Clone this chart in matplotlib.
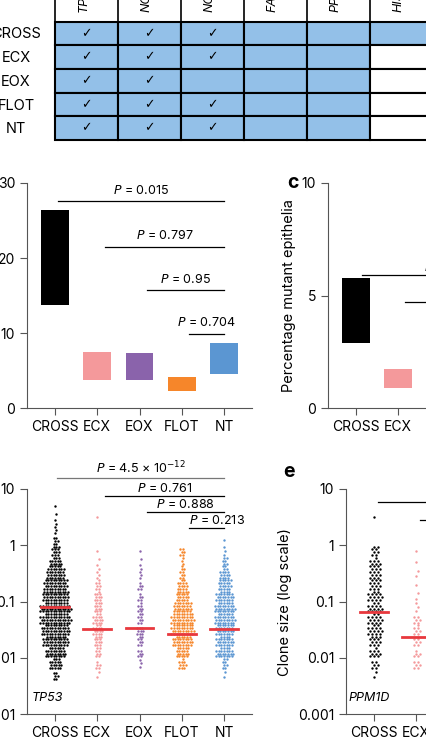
import numpy as np
import matplotlib
matplotlib.use("Agg")
import matplotlib.pyplot as plt
from matplotlib.patches import Rectangle

plt.rcParams["font.family"] = ["Inter", "DejaVu Sans"]
plt.rcParams["font.size"] = 10

# ── Data ─────────────────────────────────────────────────────────────────────
groups = ["CROSS", "ECX", "EOX", "FLOT", "NT"]
colors = ["#000000", "#f4999b", "#8a63ab", "#f6862a", "#5b96d2"]

genes = ["TP53", "NOTCH1", "NOTCH2", "FAT1", "PPM1D", "HIST1H"]
checks = [[1, 1, 1, 0, 0, 0],
          [1, 1, 1, 0, 0, 0],
          [1, 1, 0, 0, 0, 0],
          [1, 1, 1, 0, 0, 0],
          [1, 1, 1, 0, 0, 0]]
filled = [[1, 1, 1, 1, 1, 1],
          [1, 1, 1, 1, 1, 0],
          [1, 1, 1, 1, 1, 0],
          [1, 1, 1, 1, 1, 0],
          [1, 1, 1, 1, 1, 0]]

# panel b: floating bars (low, high)
b_low = [13.7, 3.8, 3.7, 2.3, 4.5]
b_high = [26.4, 7.5, 7.3, 4.1, 8.7]
b_pvals = ["0.015", "0.797", "0.95", "0.704"]
b_pstart = [0, 1, 2, 3]
b_py = [27.6, 21.5, 15.7, 9.9]

# panel c
c_low = [2.9, 0.9]
c_high = [5.8, 1.75]
c_py = [5.9, 4.7]
c_pstart = [0, 1]

# panel d: clone sizes as counts per log10 bin (centres)
bin_centres = [-2.3, -2.1, -1.9, -1.7, -1.5, -1.3, -1.1, -0.9, -0.7, -0.5,
               -0.3, -0.1, 0.1, 0.3, 0.5, 0.7]
d_counts = {
    "CROSS": [6, 18, 30, 38, 42, 45, 45, 40, 36, 28, 18, 12, 6, 4, 2, 1],
    "ECX":   [2, 5, 8, 12, 14, 14, 12, 10, 7, 4, 2, 1, 0, 0, 1, 0],
    "EOX":   [0, 3, 6, 8, 9, 8, 7, 5, 5, 4, 2, 1, 0, 0, 0, 0],
    "FLOT":  [0, 10, 20, 30, 35, 35, 28, 20, 14, 8, 4, 6, 0, 0, 0, 0],
    "NT":    [2, 8, 25, 25, 28, 30, 30, 25, 20, 14, 8, 3, 1, 0, 0, 0],
}
d_median = [0.08, 0.032, 0.034, 0.026, 0.033]
d_pvals = [r"$\it{P}$ = 4.5 × 10$^{-12}$", r"$\it{P}$ = 0.761",
           r"$\it{P}$ = 0.888", r"$\it{P}$ = 0.213"]
d_py = [15.7, 7.5, 3.9, 2.0]

# panel e: PPM1D
e_counts = {
    "CROSS": [2, 6, 10, 12, 14, 14, 14, 14, 12, 12, 10, 8, 0, 0, 1, 0],
    "ECX":   [0, 6, 5, 6, 7, 6, 3, 2, 1, 2, 1, 1, 0, 0, 0, 0],
}
e_median = [0.065, 0.023]
e_py = [5.9, 2.8]

W, H = 426, 750
fig = plt.figure(figsize=(W / 100, H / 100), dpi=100)


def px_axes(left, top, width, height):
    return fig.add_axes([left / W, 1 - (top + height) / H, width / W, height / H])


def style(ax):
    for s in ["top", "right"]:
        ax.spines[s].set_visible(False)
    ax.spines["left"].set_color("#555555")
    ax.spines["bottom"].set_color("#555555")
    ax.tick_params(length=5, color="#555555", labelsize=10)
    ax.set_xlim(-0.66, 4.66)
    ax.set_xticks(range(5))
    ax.set_xticklabels(groups)


def swarm(ax, xc, counts, color, spacing=0.062):
    for bc, n in zip(bin_centres, counts):
        if n == 0:
            continue
        rows = 4 if n >= 4 else n
        per = int(np.ceil(n / rows))
        k = 0
        for r in range(rows):
            m = min(per, n - k)
            if m <= 0:
                break
            ly = bc - 0.1 + 0.2 * (r + 0.5) / rows
            shift = 0.5 * spacing if r % 2 else 0
            xs = (np.arange(m) - (m - 1) / 2) * spacing + shift
            ax.scatter(xc + xs, np.full(m, 10 ** ly), s=3, color=color,
                       marker="o", linewidths=0, zorder=2)
            k += m


# ── Table ─────────────────────────────────────────────────────────────────────
tab = fig.add_axes([0, 0, 1, 1])
tab.set_xlim(0, W)
tab.set_ylim(H, 0)
tab.axis("off")
col_x = [55, 118, 181, 244, 307, 370, 433]
row_y = [22, 45, 69, 93, 116, 140]
for i, g in enumerate(groups):
    tab.text(16, (row_y[i] + row_y[i + 1]) / 2 + 1, g, ha="center", va="center", fontsize=10.5)
    for j in range(len(genes)):
        fc = "#93c0e8" if filled[i][j] else "white"
        tab.add_patch(Rectangle((col_x[j], row_y[i]), col_x[j + 1] - col_x[j],
                                row_y[i + 1] - row_y[i], facecolor=fc,
                                edgecolor="black", linewidth=1.5))
        if checks[i][j]:
            tab.text((col_x[j] + col_x[j + 1]) / 2, (row_y[i] + row_y[i + 1]) / 2,
                     "✓", ha="center", va="center", fontsize=9, family="DejaVu Sans")
for j, g in enumerate(genes):
    tab.plot([col_x[j], col_x[j]], [0, row_y[0]], color="black", lw=1.2)
    tab.text((col_x[j] + col_x[j + 1]) / 2 - 3, 12, g, rotation=90, ha="center",
             va="bottom", fontsize=9, style="italic")
tab.plot([col_x[-1], col_x[-1]], [0, row_y[0]], color="black", lw=1.2)

# ── Panel b ───────────────────────────────────────────────────────────────────
ax = px_axes(27, 183, 225, 225)
style(ax)
ax.set_ylim(0, 30)
ax.set_yticks([0, 10, 20, 30])
for i in range(5):
    ax.bar(i, b_high[i] - b_low[i], bottom=b_low[i], width=0.66, color=colors[i])
for s, y, p in zip(b_pstart, b_py, b_pvals):
    x0 = s + 0.08 if s == 0 else s + 0.18
    ax.plot([x0, 4], [y, y], color="black", lw=0.9)
    ax.text((x0 + 4) / 2, y + 0.6, r"$\it{P}$ = " + p, ha="center", va="bottom", fontsize=9)

# ── Panel c ───────────────────────────────────────────────────────────────────
ax = px_axes(328, 183, 225, 225)
style(ax)
ax.set_ylim(0, 10)
ax.set_yticks([0, 5, 10])
ax.set_ylabel("Percentage mutant epithelia", fontsize=10.5)
for i in range(2):
    ax.bar(i, c_high[i] - c_low[i], bottom=c_low[i], width=0.66, color=colors[i])
for s, y in zip(c_pstart, c_py):
    ax.plot([s + 0.15, 4], [y, y], color="black", lw=0.9)
ax.text(1.6, c_py[0] + 0.2, r"$\it{P}$", fontsize=9)
fig.text(287 / W, 1 - 183 / H, "c", fontsize=14, weight="bold", ha="left", va="center")

# ── Panel d ───────────────────────────────────────────────────────────────────
ax = px_axes(27, 489, 225, 225)
style(ax)
ax.set_yscale("log")
ax.set_ylim(0.001, 10)
ax.set_yticks([0.001, 0.01, 0.1, 1, 10])
ax.set_yticklabels(["0.001", "0.01", "0.1", "1", "10"])
ax.minorticks_off()
for i, g in enumerate(groups):
    swarm(ax, i, d_counts[g], colors[i])
    ax.plot([i - 0.33, i + 0.33], [d_median[i]] * 2, color="#e8383d", lw=2, zorder=3)
for s, y, p in zip(range(4), d_py, d_pvals):
    x0 = s + 0.05 if s == 0 else s + 0.18
    ax.plot([x0, 4], [y, y], color="#777777" if s == 0 else "black", lw=0.9, clip_on=False)
    ax.text((x0 + 4) / 2 + (0.25 if s == 3 else 0), y * 1.05, p, ha="center",
            va="bottom", fontsize=9)
ax.text(-0.55, 0.0017, "TP53", style="italic", fontsize=9)

# ── Panel e ───────────────────────────────────────────────────────────────────
ax = px_axes(346, 489, 225, 225)
style(ax)
ax.set_yscale("log")
ax.set_ylim(0.001, 10)
ax.set_yticks([0.001, 0.01, 0.1, 1, 10])
ax.set_yticklabels(["0.001", "0.01", "0.1", "1", "10"])
ax.minorticks_off()
ax.set_ylabel("Clone size (log scale)", fontsize=10.5)
for i, g in enumerate(["CROSS", "ECX"]):
    swarm(ax, i, e_counts[g], colors[i], spacing=0.09)
    ax.plot([i - 0.33, i + 0.33], [e_median[i]] * 2, color="#e8383d", lw=2, zorder=3)
for s, y in enumerate(e_py):
    ax.plot([s + 0.1, 4], [y, y], color="black", lw=0.9, clip_on=False)
ax.text(1.45, 10.5, r"$\it{P}$ =", fontsize=9)
ax.text(-0.6, 0.0017, "PPM1D", style="italic", fontsize=9)
fig.text(283 / W, 1 - 472 / H, "e", fontsize=14, weight="bold", ha="left", va="center")

fig.savefig("out.png", dpi=100)
